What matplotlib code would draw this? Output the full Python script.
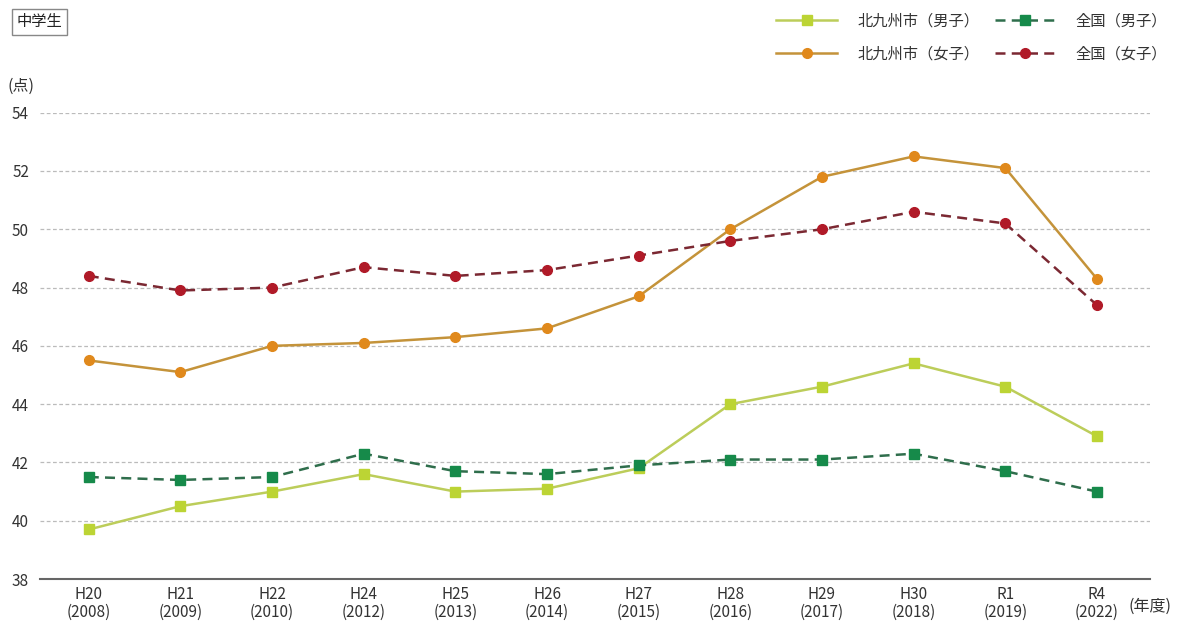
import matplotlib
matplotlib.use("Agg")
import matplotlib.pyplot as plt

plt.rcParams['font.family'] = ['Noto Sans CJK JP', 'DejaVu Sans']

years = ["H20\n(2008)", "H21\n(2009)", "H22\n(2010)", "H24\n(2012)", "H25\n(2013)", "H26\n(2014)",
         "H27\n(2015)", "H28\n(2016)", "H29\n(2017)", "H30\n(2018)", "R1\n(2019)", "R4\n(2022)"]

city_boys = [39.7, 40.5, 41.0, 41.6, 41.0, 41.1, 41.8, 44.0, 44.6, 45.4, 44.6, 42.9]
nation_boys = [41.5, 41.4, 41.5, 42.3, 41.7, 41.6, 41.9, 42.1, 42.1, 42.3, 41.7, 41.0]
city_girls = [45.5, 45.1, 46.0, 46.1, 46.3, 46.6, 47.7, 50.0, 51.8, 52.5, 52.1, 48.3]
nation_girls = [48.4, 47.9, 48.0, 48.7, 48.4, 48.6, 49.1, 49.6, 50.0, 50.6, 50.2, 47.4]

fig = plt.figure(figsize=(11.82, 6.26), dpi=100)
ax = fig.add_axes([0.034, 0.075, 0.939, 0.745])

x = range(len(years))
l1, = ax.plot(x, city_boys, color="#bccd5a", lw=1.8, marker="s", ms=7,
              mfc="#bcd434", mec="#bcd434", label="北九州市（男子）", zorder=3)
l3, = ax.plot(x, nation_boys, color="#2f6e4c", lw=1.8, ls=(0, (4, 2.5)), marker="s", ms=7,
              mfc="#168a4a", mec="#168a4a", label="全国（男子）", zorder=3)
l2, = ax.plot(x, city_girls, color="#c4933a", lw=1.8, marker="o", ms=7,
              mfc="#e0891c", mec="#e0891c", label="北九州市（女子）", zorder=3)
l4, = ax.plot(x, nation_girls, color="#7b2832", lw=1.8, ls=(0, (4, 2.5)), marker="o", ms=7,
              mfc="#b01a28", mec="#b01a28", label="全国（女子）", zorder=3)

ax.set_xlim(-0.53, 11.58)
ax.set_ylim(38, 54)
ax.set_yticks(range(38, 55, 2))
ax.set_xticks(list(x))
ax.set_xticklabels(years, fontsize=11, color="#333333", linespacing=1.05)
ax.tick_params(axis="y", labelsize=11, colors="#333333", length=0, pad=8)
ax.tick_params(axis="x", length=0, pad=5)

for v in range(40, 55, 2):
    ax.axhline(v, color="#bbbbbb", lw=0.9, ls=(0, (3, 2)), zorder=1)
for s in ["top", "right", "left"]:
    ax.spines[s].set_visible(False)
ax.spines["bottom"].set_color("#666666")
ax.spines["bottom"].set_linewidth(1.5)

fig.text(0.006, 0.862, "(点)", fontsize=11.5, color="#333333", va="center")
fig.text(0.955, 0.031, "(年度)", fontsize=11.5, color="#333333", va="center")
fig.text(0.014, 0.965, "中学生", fontsize=11, color="#222222", va="center",
         bbox=dict(boxstyle="square,pad=0.3", fc="white", ec="#888888", lw=1))

fig.legend(handles=[l1, l2, l3, l4], loc="upper right", bbox_to_anchor=(0.999, 1.002),
           ncol=2, frameon=False, fontsize=11, handlelength=4.0, columnspacing=1.0,
           handletextpad=1.3, labelspacing=1.05, labelcolor="#333333")

fig.savefig("out.png", dpi=100)
